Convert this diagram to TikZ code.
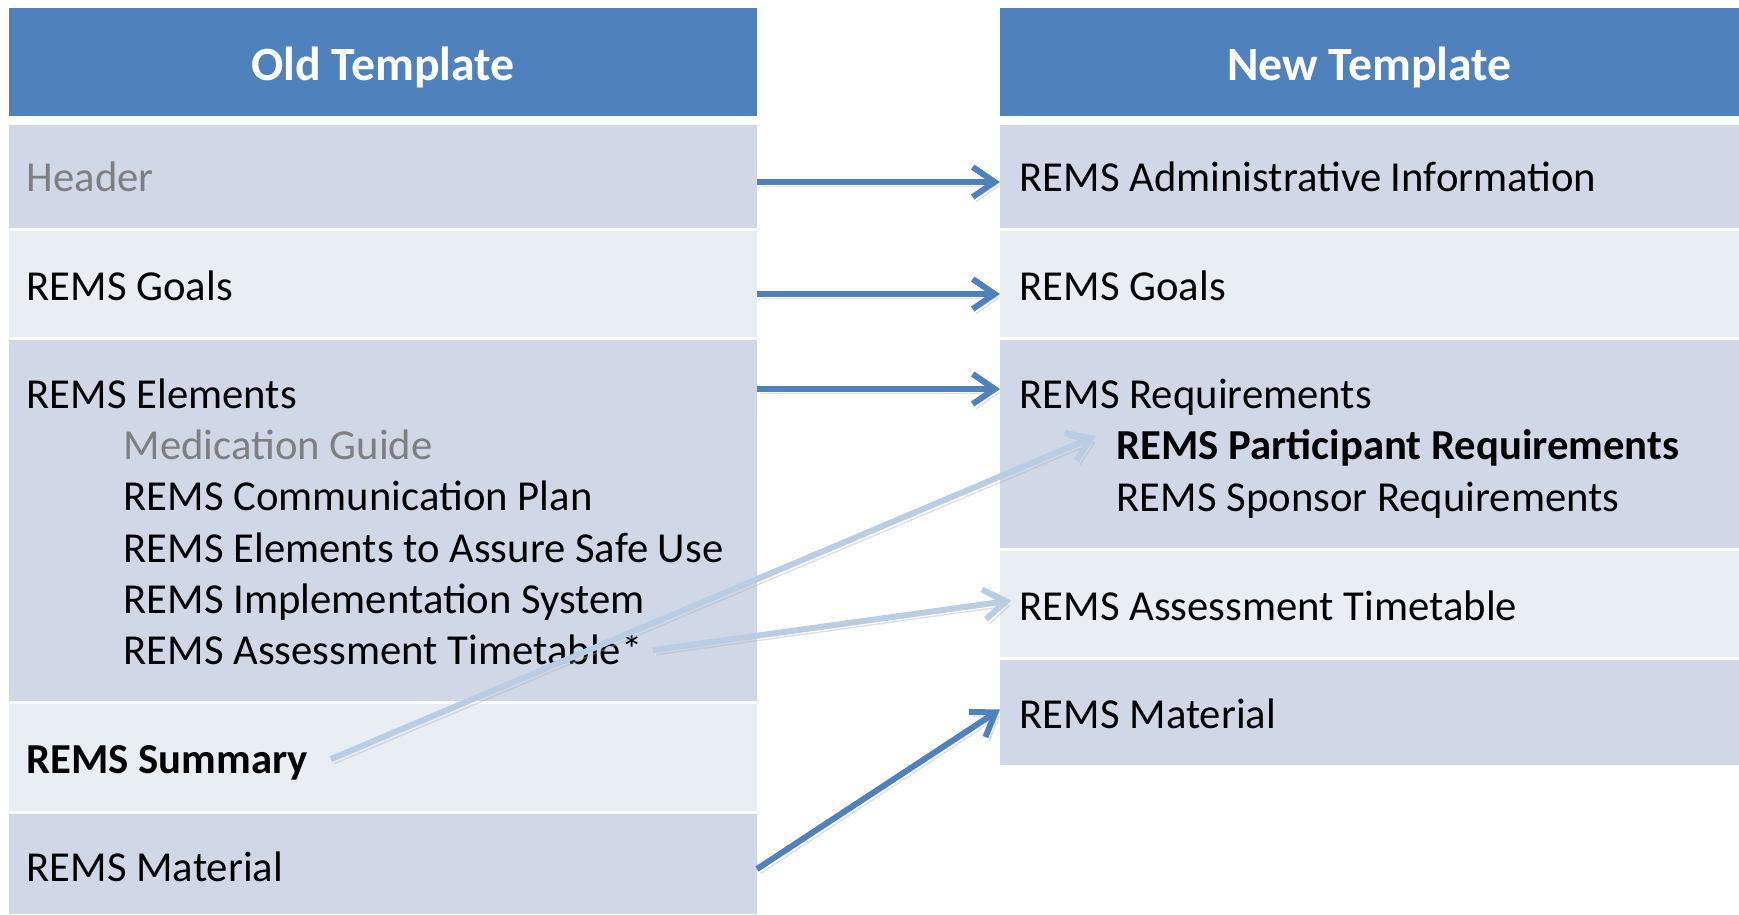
\documentclass[tikz,border=0pt]{standalone}
\usepackage{fontspec}
\setmainfont{Carlito}
\usetikzlibrary{arrows.meta,positioning}
\definecolor{headblue}{HTML}{4F81BD}
\definecolor{rowdark}{HTML}{D0D8E8}
\definecolor{rowlight}{HTML}{E9EDF4}
\definecolor{arrowpale}{HTML}{B9CDE5}
\definecolor{greytext}{HTML}{7F7F7F}
\tikzset{
  cell/.style  = {anchor=north west, inner sep=0pt, outer sep=0pt},
  dark/.style  = {cell, fill=rowdark},
  light/.style = {cell, fill=rowlight},
  head/.style  = {cell, fill=headblue, text=white, text height=3.6mm, text depth=0pt,
                  font=\fontsize{13.6}{16}\selectfont\bfseries},
  lcol/.style  = {minimum width=74.8mm},
  rcol/.style  = {minimum width=73.9mm},
  txt/.style   = {anchor=base west, inner sep=0pt, text height=2.5mm, text depth=0pt,
                  font=\fontsize{12.15}{14}\selectfont},
  link/.style  = {-{Straight Barb[length=2.2mm,width=3mm]}, line width=0.6mm, draw=headblue,
                  preaction={draw=black!30, opacity=.4, transform canvas={shift={(0.35mm,-0.45mm)}}}},
  faint/.style = {link, draw=arrowpale},
}

\begin{document}
\begin{tikzpicture}[x=0.1mm,y=-0.1mm]
    \useasboundingbox (0,0) rectangle (1739,914);

    % Old template column
    \node[head,lcol,minimum height=10.8mm] (oldhead) at (9,8) {Old Template};
    \node[dark,lcol,minimum height=10.3mm] (oldheader) at (9,125) {};
    \node[light,lcol,minimum height=10.6mm] (oldgoals) at (9,231) {};
    \node[dark,lcol,minimum height=36.1mm] (oldelem) at (9,340) {};
    \node[light,lcol,minimum height=10.7mm] (oldsum) at (9,704) {};
    \node[dark,lcol,minimum height=10mm] (oldmat) at (9,814) {};

    % New template column
    \node[head,rcol,minimum height=10.8mm] (newhead) at (1000,8) {New Template};
    \node[dark,rcol,minimum height=10.3mm] (newadmin) at (1000,125) {};
    \node[light,rcol,minimum height=10.6mm] (newgoals) at (1000,231) {};
    \node[dark,rcol,minimum height=20.8mm] (newreq) at (1000,340) {};
    \node[light,rcol,minimum height=10.6mm] (newtime) at (1000,551) {};
    \node[dark,rcol,minimum height=10.5mm] (newmat) at (1000,660) {};

    % Old template texts
    \node[txt,text=greytext] (t-header) at (26,191) {Header};
    \node[txt] (t-oldgoals) at (26,300) {REMS Goals};
    \node[txt] (t-elem) at (26,408) {REMS Elements};
    \node[txt,text=greytext] (t-med) at (123,459) {Medication Guide};
    \node[txt] (t-comm) at (123,510) {REMS Communication Plan};
    \node[txt] (t-easu) at (123,562) {REMS Elements to Assure Safe Use};
    \node[txt] (t-impl) at (123,613) {REMS Implementation System};
    \node[txt] (t-tt) at (123,664) {REMS Assessment Timetable*};
    \node[txt,font=\fontsize{12.15}{14}\selectfont\bfseries] (t-sum) at (26,773) {REMS Summary};
    \node[txt] (t-oldmat) at (26,881) {REMS Material};

    % New template texts
    \node[txt] (t-admin) at (1019,191) {REMS Administrative Information};
    \node[txt] (t-newgoals) at (1019,300) {REMS Goals};
    \node[txt] (t-req) at (1019,408) {REMS Requirements};
    \node[txt,font=\fontsize{12.15}{14}\selectfont\bfseries] (t-part) at (1116,459) {REMS Participant Requirements};
    \node[txt] (t-spon) at (1116,511) {REMS Sponsor Requirements};
    \node[txt] (t-newtime) at (1019,620) {REMS Assessment Timetable};
    \node[txt] (t-newmat) at (1019,728) {REMS Material};

    % Mapping old -> new
    \draw[link] ([yshift=-0.55mm]oldheader.east) -- ([yshift=-0.55mm]newadmin.west);
    \draw[link] ([yshift=-1mm]oldgoals.east) -- ([yshift=-1mm]newgoals.west);
    \draw[link] ([yshift=0.65mm]oldelem.east |- t-elem) -- ([yshift=0.65mm]newreq.west |- t-elem);
    \draw[faint, shorten <=2.4mm, shorten >=2.2mm] ([yshift=-0.8mm]t-sum.east) -- ([yshift=1.9mm]t-part.west);
    \draw[faint, shorten <=1mm, shorten >=0.8mm] (t-tt.east) -- ([yshift=0.8mm]t-newtime.west);
    \draw[link] ([yshift=-0.5mm]oldmat.east) -- ([yshift=0.3mm]newmat.west);
\end{tikzpicture}
\end{document}
